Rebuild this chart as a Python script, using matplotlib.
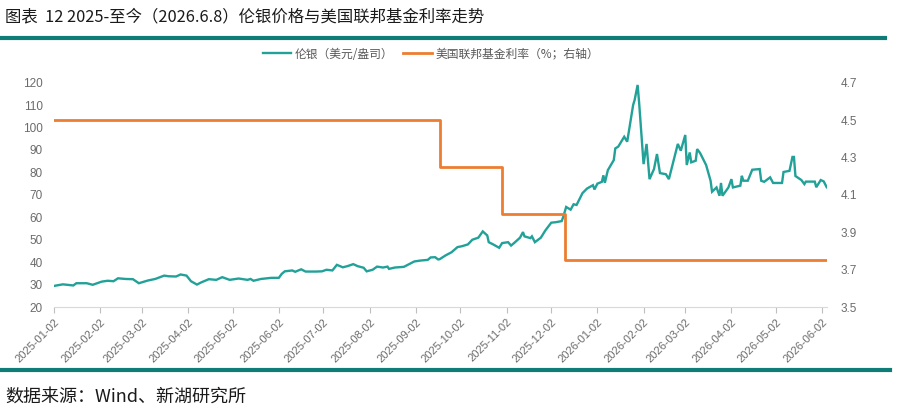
import matplotlib
matplotlib.use("Agg")
import matplotlib.pyplot as plt
from matplotlib.lines import Line2D
import pandas as pd

plt.rcParams['font.family'] = ['Noto Sans CJK SC', 'DejaVu Sans']

title = "图表  12 2025-至今（2026.6.8）伦银价格与美国联邦基金利率走势"
source = "数据来源：Wind、新湖研究所"
silver_label = "伦银（美元/盎司）"
fed_label = "美国联邦基金利率（%；右轴）"

silver_dates = [
    "2025-01-02", "2025-01-08", "2025-01-15", "2025-01-17", "2025-01-24", "2025-01-28",
    "2025-02-03", "2025-02-07", "2025-02-11", "2025-02-14", "2025-02-19", "2025-02-24",
    "2025-02-28", "2025-03-06", "2025-03-11", "2025-03-17", "2025-03-20", "2025-03-25",
    "2025-03-28", "2025-04-01", "2025-04-04", "2025-04-08", "2025-04-11", "2025-04-16",
    "2025-04-21", "2025-04-25", "2025-04-30", "2025-05-06", "2025-05-12", "2025-05-14",
    "2025-05-16", "2025-05-21", "2025-05-28", "2025-06-02", "2025-06-04", "2025-06-06",
    "2025-06-11", "2025-06-13", "2025-06-17", "2025-06-20", "2025-06-27", "2025-07-01",
    "2025-07-04", "2025-07-08", "2025-07-11", "2025-07-15", "2025-07-18", "2025-07-22",
    "2025-07-25", "2025-07-29", "2025-07-31", "2025-08-04", "2025-08-07", "2025-08-11",
    "2025-08-14", "2025-08-15", "2025-08-19", "2025-08-25", "2025-08-27", "2025-09-01",
    "2025-09-05", "2025-09-10", "2025-09-12", "2025-09-15", "2025-09-17", "2025-09-18",
    "2025-09-22", "2025-09-26", "2025-09-30", "2025-10-03", "2025-10-07", "2025-10-10",
    "2025-10-14", "2025-10-17", "2025-10-20", "2025-10-21", "2025-10-24", "2025-10-28",
    "2025-10-30", "2025-11-03", "2025-11-05", "2025-11-07", "2025-11-11", "2025-11-13",
    "2025-11-14", "2025-11-18", "2025-11-19", "2025-11-21", "2025-11-25", "2025-11-28",
    "2025-12-02", "2025-12-05", "2025-12-09", "2025-12-10", "2025-12-12", "2025-12-15",
    "2025-12-17", "2025-12-19", "2025-12-23", "2025-12-26", "2025-12-30", "2025-12-31",
    "2026-01-02", "2026-01-05", "2026-01-06", "2026-01-07", "2026-01-09", "2026-01-13",
    "2026-01-14", "2026-01-16", "2026-01-20", "2026-01-22", "2026-01-26", "2026-01-27",
    "2026-01-29", "2026-01-30", "2026-02-02", "2026-02-04", "2026-02-06", "2026-02-09",
    "2026-02-11", "2026-02-13", "2026-02-17", "2026-02-19", "2026-02-25", "2026-02-27",
    "2026-03-02", "2026-03-03", "2026-03-05", "2026-03-06", "2026-03-09", "2026-03-10",
    "2026-03-12", "2026-03-16", "2026-03-19", "2026-03-20", "2026-03-23", "2026-03-25",
    "2026-03-26", "2026-03-27", "2026-03-31", "2026-04-02", "2026-04-03", "2026-04-08",
    "2026-04-09", "2026-04-10", "2026-04-13", "2026-04-16", "2026-04-21", "2026-04-22",
    "2026-04-24", "2026-04-28", "2026-04-30", "2026-05-06", "2026-05-07", "2026-05-11",
    "2026-05-13", "2026-05-14", "2026-05-15", "2026-05-19", "2026-05-21", "2026-05-22",
    "2026-05-28", "2026-05-29", "2026-06-01", "2026-06-03", "2026-06-05",
]
silver_values = [
    29.4, 30.1, 29.6, 30.6, 30.6, 29.9,
    31.3, 31.7, 31.5, 32.8, 32.5, 32.4,
    30.6, 31.8, 32.5, 34.0, 33.7, 33.6,
    34.5, 34.0, 31.5, 30.0, 31.0, 32.4,
    32.1, 33.3, 32.1, 32.7, 32.1, 32.5,
    31.7, 32.5, 33.0, 33.0, 34.8, 35.9,
    36.3, 35.7, 36.8, 35.8, 35.8, 35.9,
    36.6, 36.3, 38.8, 37.7, 38.2, 39.1,
    38.2, 37.5, 35.9, 36.6, 38.0, 37.6,
    38.0, 37.0, 37.6, 37.9, 38.6, 40.3,
    40.7, 41.0, 42.1, 42.2, 41.2, 41.3,
    43.0, 44.4, 46.7, 47.1, 47.9, 50.0,
    50.9, 53.7, 51.9, 48.9, 47.9, 46.4,
    48.5, 48.9, 47.4, 48.5, 50.9, 53.4,
    51.5, 50.7, 51.5, 48.9, 50.9, 54.1,
    57.6, 57.8, 58.3, 60.1, 64.6, 63.4,
    65.8, 65.5, 70.8, 72.8, 74.3, 72.4,
    75.0, 75.8, 78.7, 75.4, 81.0, 85.5,
    90.7, 91.5, 95.9, 93.7, 110.1, 112.3,
    119.0, 111.2, 83.7, 92.7, 77.0, 81.5,
    88.2, 79.7, 79.2, 77.0, 92.7, 89.7,
    96.7, 83.3, 88.9, 84.5, 85.2, 90.4,
    88.6, 83.3, 76.3, 71.4, 73.3, 69.6,
    75.3, 69.6, 73.3, 77.0, 73.3, 74.1,
    78.5, 76.3, 76.3, 81.2, 81.5, 76.3,
    75.8, 77.8, 75.3, 75.3, 80.2, 80.7,
    86.9, 86.9, 78.4, 76.6, 74.8, 75.9,
    75.9, 73.4, 76.6, 76.0, 73.4,
]

fed_dates = ["2025-01-02", "2025-09-18", "2025-10-30", "2025-12-11", "2026-06-05"]
fed_values = [4.50, 4.25, 4.00, 3.75, 3.75]

xtick_labels = [
    "2025-01-02", "2025-02-02", "2025-03-02", "2025-04-02", "2025-05-02", "2025-06-02",
    "2025-07-02", "2025-08-02", "2025-09-02", "2025-10-02", "2025-11-02", "2025-12-02",
    "2026-01-02", "2026-02-02", "2026-03-02", "2026-04-02", "2026-05-02", "2026-06-02",
]
left_ticks = [20, 30, 40, 50, 60, 70, 80, 90, 100, 110, 120]
right_ticks = [3.5, 3.7, 3.9, 4.1, 4.3, 4.5, 4.7]

TEAL = "#22a198"
ORANGE = "#ed7d31"
RULE = "#0f7c77"
TICK = "#6b6b6b"
TICKFONT = ["Liberation Sans", "DejaVu Sans"]

W, H = 900, 408
fig = plt.figure(figsize=(W / 100, H / 100), dpi=100)
fig.patch.set_facecolor("white")

ax = fig.add_axes([54 / W, 1 - 307 / H, (826.7 - 54) / W, (307 - 82.7) / H])
ax2 = ax.twinx()

sd = pd.to_datetime(silver_dates)
fd = pd.to_datetime(fed_dates)
ln1, = ax.plot(sd, silver_values, color=TEAL, lw=1.7, solid_joinstyle="miter")
ln2, = ax2.plot(fd, fed_values, color=ORANGE, lw=2.0, drawstyle="steps-post")

ax.set_xlim(pd.Timestamp("2025-01-02"), pd.Timestamp("2026-06-05"))
ax.set_ylim(20, 120)
ax2.set_ylim(3.5, 4.7)

ax.set_yticks(left_ticks)
ax.set_yticklabels([str(v) for v in left_ticks], color=TICK, fontsize=8.5, family=TICKFONT)
ax2.set_yticks(right_ticks)
ax2.set_yticklabels([f"{v:.1f}" for v in right_ticks], color=TICK, fontsize=8.5, family=TICKFONT)

xt = pd.to_datetime(xtick_labels)
ax.set_xticks(xt)
ax.set_xticklabels(xtick_labels, rotation=45, ha="right", va="top", rotation_mode="anchor",
                   color=TICK, fontsize=8, family=TICKFONT)

for a in (ax, ax2):
    for s in ("top", "left", "right", "bottom"):
        a.spines[s].set_visible(False)
ax.spines["bottom"].set_visible(True)
ax.spines["bottom"].set_color("#d9d9d9")
ax.tick_params(axis="x", length=4, color="#bfbfbf", pad=3)
ax.tick_params(axis="y", length=0, pad=8)
ax2.tick_params(axis="y", length=0, pad=10)

fig.legend([ln1, ln2], [silver_label, fed_label], loc="center", bbox_to_anchor=(431 / W, 1 - 54 / H),
           ncol=2, frameon=False, fontsize=8.5, handlelength=2.4, handletextpad=0.35,
           columnspacing=0.8, labelcolor="#595959")

fig.text(5 / W, 1 - 17 / H, title, fontsize=11.8, va="center", ha="left", color="#1a1a1a")
fig.add_artist(Line2D([0, 885 / W], [1 - 38 / H] * 2, lw=3, color=RULE))
fig.add_artist(Line2D([0, 890 / W], [1 - 369.5 / H] * 2, lw=3, color=RULE))
fig.text(5 / W, 1 - 397 / H, source, fontsize=13, va="center", ha="left", color="#1a1a1a")

fig.savefig("out.png", dpi=100, facecolor="white")
